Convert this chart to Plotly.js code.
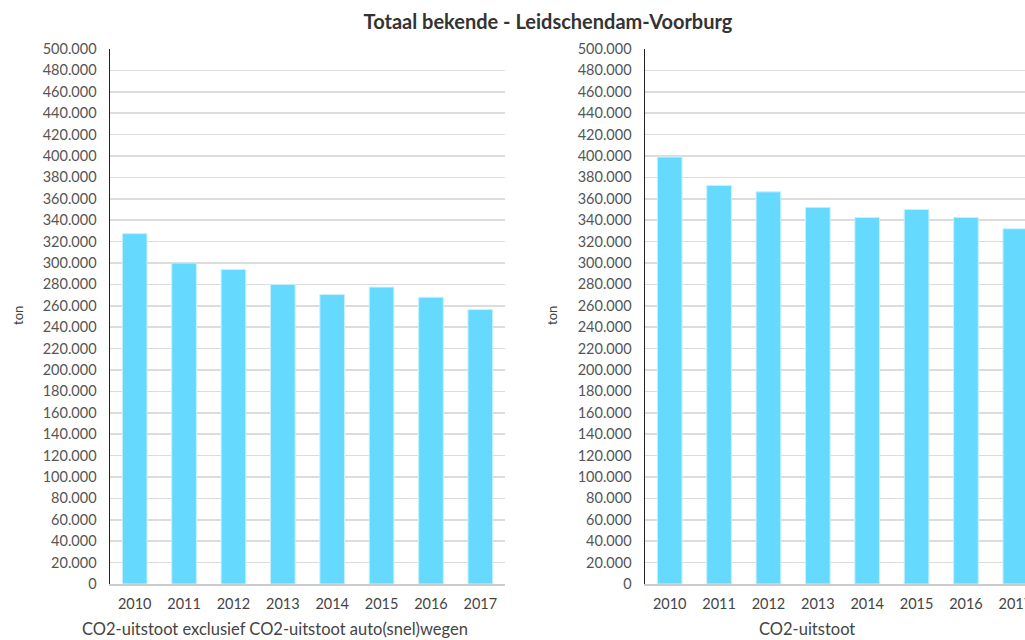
<!DOCTYPE html>
<html>
<head>
<meta charset="utf-8">
<script src="https://cdn.plot.ly/plotly-3.0.1.min.js"></script>
<style>
html,body{margin:0;padding:0;overflow:hidden;background:#fff;width:1025px;height:640px;}
#chart{position:absolute;left:0;top:0;width:1100px;height:640px;}
</style>
</head>
<body>
<div id="chart"></div>
<script>
const years = ['2010','2011','2012','2013','2014','2015','2016','2017'];
const exclRoads = [327500, 300000, 294000, 280000, 270500, 277500, 268000, 256500];
const totalCO2 = [399000, 372500, 366500, 352000, 342500, 350000, 342500, 332000];
const yTickVals = [0,20000,40000,60000,80000,100000,120000,140000,160000,180000,200000,220000,240000,260000,280000,300000,320000,340000,360000,380000,400000,420000,440000,460000,480000,500000];
const yTickText = yTickVals.map(v => v === 0 ? '0' : (v/1000).toFixed(0) + '.000');
const chartTitle = 'Totaal bekende - Leidschendam-Voorburg';
const leftTitle = 'CO2-uitstoot exclusief CO2-uitstoot auto(snel)wegen';
const rightTitle = 'CO2-uitstoot';
const yLabel = 'ton';

const W = 1100;
const barColor = '#66d9ff';
const font = 'Lato, "Open Sans", sans-serif';

function bar(x, y, xa, ya){
  return {type:'bar', x:x, y:y, xaxis:xa, yaxis:ya,
    marker:{color:barColor, line:{color:'#c8f0ff', width:1}},
    hoverinfo:'x+y', showlegend:false};
}
const xBase = {type:'category', showgrid:false, zeroline:false, showline:true, linecolor:'#cccccc', linewidth:2,
  ticks:'outside', ticklen:6, tickcolor:'rgba(0,0,0,0)', tickfont:{family:font, size:14.5, color:'#444'}, fixedrange:true};
const yBase = {range:[0,500000], tickvals:yTickVals, ticktext:yTickText, showgrid:true, gridcolor:'#dcdcdc', gridwidth:1.5,
  zeroline:false, showline:true, linecolor:'#222', linewidth:1.5, ticks:'outside', ticklen:9, tickcolor:'rgba(0,0,0,0)',
  tickfont:{family:font, size:14.5, color:'#555'}, fixedrange:true};

const layout = {
  width: W, height: 640,
  margin:{l:0, r:0, t:49, b:56},
  paper_bgcolor:'#fff', plot_bgcolor:'#fff',
  bargap:0.5,
  font:{family:font, color:'#444'},
  title:{text:'<b>'+chartTitle+'</b>', x:548/W, xanchor:'center', y:1-22/640, yanchor:'middle', font:{family:font, size:20, color:'#333'}},
  xaxis: Object.assign({}, xBase, {domain:[110/W, 505/W], anchor:'y'}),
  yaxis: Object.assign({}, yBase, {domain:[0,1], anchor:'x'}),
  xaxis2: Object.assign({}, xBase, {domain:[645/W, 1040/W], anchor:'y2'}),
  yaxis2: Object.assign({}, yBase, {domain:[0,1], anchor:'x2'}),
  annotations:[
    {text:leftTitle, xref:'paper', yref:'paper', x:275/W, y:-(629-584)/535, xanchor:'center', yanchor:'middle', showarrow:false, font:{family:font, size:16.5, color:'#444'}},
    {text:rightTitle, xref:'paper', yref:'paper', x:807/W, y:-(629-584)/535, xanchor:'center', yanchor:'middle', showarrow:false, font:{family:font, size:16.5, color:'#444'}},
    {text:yLabel, xref:'paper', yref:'paper', x:18/W, y:(584-316)/535, xanchor:'center', yanchor:'middle', textangle:-90, showarrow:false, font:{family:font, size:13, color:'#444'}},
    {text:yLabel, xref:'paper', yref:'paper', x:552/W, y:(584-316)/535, xanchor:'center', yanchor:'middle', textangle:-90, showarrow:false, font:{family:font, size:13, color:'#444'}}
  ]
};

Plotly.newPlot('chart', [bar(years, exclRoads, 'x', 'y'), bar(years, totalCO2, 'x2', 'y2')], layout, {displayModeBar:false, staticPlot:true});
</script>
</body>
</html>
